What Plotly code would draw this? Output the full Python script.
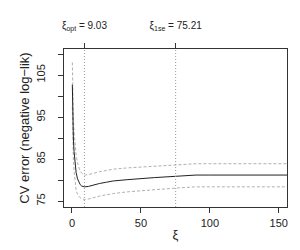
import plotly.graph_objects as go

xi = [0.25, 0.5, 1, 1.5, 2, 3, 4, 5, 6, 7, 9, 12, 15, 20, 25, 30, 40, 50, 60, 75, 90, 100, 120, 156]
cv_mean = [102.7, 96.0, 90.0, 86.8, 84.5, 81.8, 80.3, 79.4, 78.9, 78.6, 78.4, 78.5, 78.8, 79.2, 79.5, 79.8, 80.1, 80.4, 80.6, 80.9, 81.2, 81.2, 81.2, 81.2]
cv_upper = [108.0, 101.5, 95.0, 91.5, 89.0, 86.0, 84.0, 82.8, 82.1, 81.7, 81.2, 81.3, 81.6, 82.0, 82.3, 82.6, 82.9, 83.1, 83.3, 83.6, 83.9, 83.9, 83.9, 83.9]
cv_lower = [97.4, 91.0, 85.0, 82.2, 80.0, 77.6, 76.6, 76.1, 75.8, 75.6, 75.4, 75.5, 75.8, 76.2, 76.5, 76.8, 77.2, 77.5, 77.8, 78.1, 78.4, 78.4, 78.4, 78.4]

xi_opt = 9.03
xi_1se = 75.21
top_labels = ["ξ<sub>opt</sub> = 9.03", "ξ<sub>1se</sub> = 75.21"]

FONT = "Liberation Sans, Arial, sans-serif"
AX = "#333333"

fig = go.Figure()
fig.add_trace(go.Scatter(x=xi, y=cv_upper, mode="lines",
                         line=dict(color="#b0b0b0", width=1, dash="3px,2px"), showlegend=False))
fig.add_trace(go.Scatter(x=xi, y=cv_lower, mode="lines",
                         line=dict(color="#b0b0b0", width=1, dash="3px,2px"), showlegend=False))
fig.add_trace(go.Scatter(x=xi, y=cv_mean, mode="lines",
                         line=dict(color="#222222", width=1), showlegend=False))
fig.add_trace(go.Scatter(x=[xi_opt, xi_1se], y=[90, 90], xaxis="x2", mode="lines",
                         line=dict(width=0), opacity=0, showlegend=False, hoverinfo="skip"))

for v in [xi_opt, xi_1se]:
    fig.add_vline(x=v, line=dict(color="#999999", width=1, dash="1px,2px"))

xr = [-5.8, 156]
fig.update_layout(
    width=300, height=250,
    margin=dict(l=56, r=21, t=41, b=51),
    paper_bgcolor="white", plot_bgcolor="white",
    font=dict(family=FONT, size=11, color="#222222"),
    xaxis=dict(range=xr, tickvals=[0, 50, 100, 150], ticks="outside", ticklen=5,
               tickcolor=AX, showline=True, linecolor=AX, linewidth=1, mirror=True,
               showgrid=False, zeroline=False, ticklabelstandoff=1,
               title=dict(text="ξ", standoff=1)),
    xaxis2=dict(range=xr, overlaying="x", side="top", tickvals=[xi_opt, xi_1se],
                ticktext=top_labels, ticks="outside", ticklen=5, tickcolor=AX,
                showgrid=False, zeroline=False, showline=False,
                tickfont=dict(size=10), ticklabelstandoff=10),
    yaxis=dict(range=[73.6, 111.2], tickvals=[75, 80, 85, 90, 95, 100, 105, 110],
               ticktext=["75", "", "85", "", "95", "", "105", ""],
               ticks="outside", ticklen=5, tickcolor=AX, tickangle=-90,
               showline=True, linecolor=AX, linewidth=1, mirror=True,
               showgrid=False, zeroline=False, ticklabelstandoff=9,
               title=dict(text="CV error (negative log−lik)", standoff=2)),
)

fig.write_html("out.html")
